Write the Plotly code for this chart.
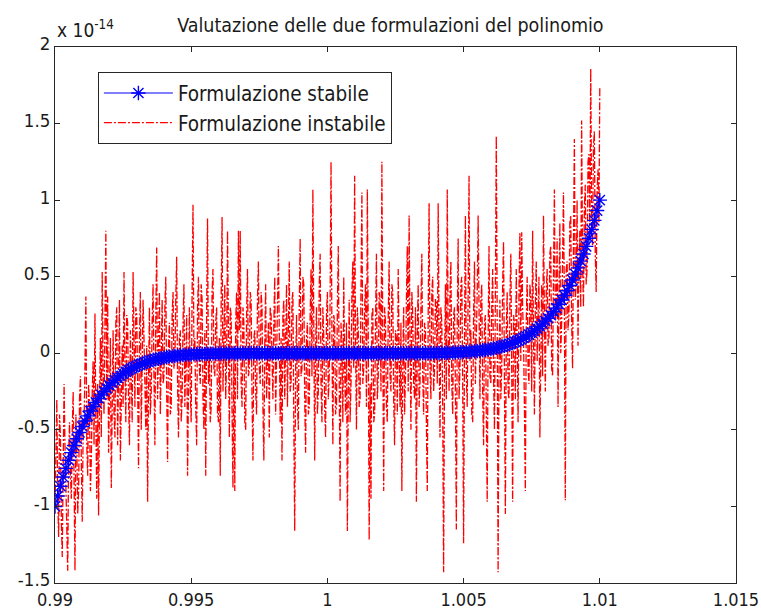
import plotly.graph_objects as go
import numpy as np

# ---- data (values in units of 1e-14) ----
x_range = [0.99, 1.01]

stable_pos = [  # right half of the stable curve, from the centre (x=1) to x=1.01
    0.0, 0.0, 0.0, 0.0, 0.0, 0.0, 0.0, 0.0, 0.0, 0.0,
    0.0, 0.0, 0.0, 0.0, 0.0, 0.0, 0.0, 0.0, 0.0, 0.0,
    0.00001, 0.00002, 0.00002, 0.00003, 0.00005, 0.00006, 0.00008, 0.0001, 0.00013, 0.00017,
    0.00022, 0.00027, 0.00034, 0.00043, 0.00052, 0.00064, 0.0008, 0.00095, 0.0011, 0.0014,
    0.0016, 0.0019, 0.0023, 0.0027, 0.0032, 0.0037, 0.0044, 0.0051, 0.0059, 0.0068,
    0.0078, 0.0090, 0.0103, 0.0117, 0.0134, 0.0152, 0.0173, 0.0196, 0.0221, 0.0249,
    0.0280, 0.0314, 0.0352, 0.0394, 0.0440, 0.0490, 0.0546, 0.0606, 0.0672, 0.0745,
    0.0824, 0.0909, 0.1003, 0.1105, 0.1215, 0.1335, 0.1465, 0.1605, 0.1757, 0.1920,
    0.2097, 0.2288, 0.2493, 0.2714, 0.2951, 0.3206, 0.3479, 0.3773, 0.4087, 0.4423,
    0.4783, 0.5168, 0.5578, 0.6017, 0.6485, 0.6983, 0.7514, 0.8080, 0.8681, 0.9321,
    1.0,
]
stable_neg = [-v for v in stable_pos[:0:-1]]  # left half (odd symmetry about x=1)
stable_y = stable_neg + stable_pos

unstable_y = [
    -1.00, -0.70, -0.30, -0.95, -1.20, -0.40, -0.55, -1.10, -1.33, -0.75, -0.20, -0.60, -0.85, -1.25, -1.42, -0.65, -0.45, -0.80, -0.95, -0.50,
    -0.25, -0.85, -1.42, -0.40, -0.60, -1.05, -0.90, -0.30, -0.15, -0.70, -1.10, -0.50, -0.45, -0.10, 0.37, -0.60, -0.80, -0.20, -0.35, -0.90,
    -0.70, -0.25, -0.05, -0.60, 0.26, -0.45, -0.95, -0.20, -1.06, -0.35, 0.10, -0.55, 0.53, -0.15, -0.40, 0.20, 0.80, -0.30, 0.37, -0.65,
    -0.30, 0.10, -0.88, -0.15, 0.15, -0.40, -0.55, 0.20, 0.30, -0.60, -0.20, 0.35, -0.70, -0.10, 0.05, -0.35, 0.53, -0.05, -0.45, 0.25,
    0.20, -0.30, -0.60, 0.15, -0.10, -0.45, 0.53, 0.00, -0.35, 0.30, 0.25, -0.20, -0.75, 0.10, 0.40, -0.50, -0.15, 0.35, 0.10, -0.25,
    -0.50, 0.05, -0.97, -0.20, 0.30, -0.40, -0.25, 0.20, 0.45, -0.15, -0.60, 0.25, 0.69, -0.30, 0.05, 0.40, -0.40, 0.15, 0.35, -0.20,
    -0.15, 0.30, 0.50, -0.25, -0.71, 0.05, 0.20, -0.40, -0.35, 0.25, 0.40, -0.10, -0.05, 0.35, 0.63, -0.20, -0.55, 0.10, 0.15, -0.45,
    -0.30, 0.20, 0.45, -0.35, -0.10, 0.25, -0.80, -0.15, 0.30, -0.25, -0.45, 0.40, 0.97, 0.00, 0.10, -0.35, -0.60, 0.30, 0.50, -0.10,
    -0.20, 0.45, 0.35, -0.30, -0.50, 0.15, -0.80, 0.25, 0.88, -0.20, 0.00, -0.45, -0.35, 0.40, 0.55, -0.10, -0.15, 0.20, 0.30, -0.40,
    -0.45, 0.10, -0.80, 0.35, 0.89, -0.25, 0.15, 0.45, -0.30, -0.05, 0.80, -0.20, -0.55, 0.30, 0.25, -0.40, -0.88, 0.05, -0.90, 0.20,
    0.40, -0.30, 0.80, 0.15, 0.80, -0.20, -0.35, 0.30, 0.20, -0.45, -0.50, 0.25, 0.55, -0.15, -0.10, 0.40, 0.35, -0.30, -0.70, 0.10,
    0.15, -0.25, -0.40, 0.35, 0.60, -0.10, -0.20, 0.40, 0.30, -0.35, -0.70, 0.05, 0.45, -0.30, -0.05, 0.20, -0.55, 0.30, 0.25, -0.15,
    -0.30, 0.20, 0.50, -0.40, -0.15, 0.30, 0.70, -0.20, -0.45, 0.10, -0.70, 0.25, 0.35, -0.30, 0.05, 0.45, -0.35, 0.15, 0.60, -0.25,
    -0.20, 0.35, 0.40, -0.45, -1.16, -0.10, 0.25, -0.35, -0.50, 0.30, 0.75, -0.15, -0.10, 0.50, 0.45, -0.30, -0.65, 0.10, 0.20, -0.40,
    -0.35, 0.25, 0.55, -0.15, 1.07, 0.20, -0.70, 0.05, 0.30, -0.40, -0.25, 0.45, 0.65, -0.20, -0.45, 0.30, 0.10, -0.35, -0.55, 0.25,
    0.40, -0.30, -0.15, 0.35, 1.25, 0.10, -0.60, 0.25, 0.20, -0.40, -0.35, 0.30, 0.70, -0.15, -0.97, 0.20, 0.05, -0.45, 0.50, -0.10,
    -0.40, 0.20, -1.16, -0.25, 0.35, -0.45, -0.20, 0.40, 0.60, -0.10, 1.16, 0.05, -0.50, 0.30, 0.15, -0.35, -0.30, 0.45, 1.05, -0.20,
    -0.10, 0.30, 0.45, -0.35, 1.07, 0.10, -1.22, -0.20, -0.95, 0.25, 0.30, -0.45, -0.40, 0.20, 0.65, -0.30, -0.15, 0.40, 0.35, -0.25,
    1.25, 0.05, -0.90, 0.30, 0.20, -0.35, -0.45, 0.25, 0.60, -0.15, -0.25, 0.45, 0.40, -0.30, -0.60, 0.15, 0.10, -0.40, 0.55, 0.00,
    -0.35, 0.20, -0.90, -0.10, 0.30, -0.40, -0.15, 0.35, 0.70, -0.25, 0.90, 0.10, -0.50, 0.40, 0.25, -0.20, -0.30, 0.30, -0.97, 0.15,
    0.45, -0.35, -0.20, 0.30, 0.65, -0.15, -0.40, 0.20, 0.15, -0.45, -0.90, 0.25, 0.98, -0.10, -0.30, 0.40, 0.50, -0.25, -0.10, 0.35,
    0.35, -0.20, 0.98, 0.10, -0.55, 0.30, 0.20, -0.35, -1.43, -0.10, 0.45, -0.30, 1.07, 0.15, -0.25, 0.40, 0.60, -0.20, -0.40, 0.25,
    0.30, -0.25, -1.15, 0.20, 0.75, -0.30, -0.10, 0.45, 0.50, -0.20, -1.24, 0.10, 0.90, -0.15, -0.35, 0.40, 1.16, -0.05, 0.15, -0.40,
    -0.45, 0.25, 0.60, -0.20, 0.05, 0.40, 0.90, -0.10, -0.30, 0.35, 0.45, -0.25, -0.60, 0.20, 0.25, -0.40, -0.97, 0.10, 0.70, -0.15,
    -0.20, 0.30, 0.55, -0.15, -0.50, 0.40, 1.42, 0.20, -1.43, -0.05, 0.35, -0.30, -0.10, 0.45, 0.73, -0.20, -1.05, 0.15, 0.40, -0.25,
    -0.30, 0.35, 0.65, -0.10, -0.97, 0.25, 0.20, -0.30, 0.55, 0.10, -0.45, 0.40, 0.79, -0.05, 0.79, 0.30, 0.10, -0.35, -0.90, 0.20,
    0.50, -0.10, -0.20, 0.45, 0.35, -0.25, 0.80, 0.10, -0.40, 0.30, 0.60, -0.05, 0.15, 0.50, -0.55, 0.20, 0.45, -0.15, 0.90, 0.25,
    -0.25, 0.40, 0.55, 0.05, 0.10, 0.65, 0.70, -0.10, -0.15, 0.50, 1.07, 0.20, 0.30, 0.75, -0.35, 0.35, 0.85, 0.00, 0.20, 0.60,
    1.05, 0.30, -0.96, 0.55, 0.60, 0.15, 0.25, 0.85, 0.90, 0.20, -0.10, 0.70, 1.40, 0.35, 0.45, 1.00, 0.05, 0.60, 0.80, 0.30,
    1.52, 0.60, 0.30, 0.95, 1.10, 0.45, 0.55, 1.25, 1.30, 0.75, 1.86, 0.90, 0.70, 1.35, 1.45, 0.65, 0.40, 1.05, 1.20, 0.85, 1.74,
]

x_tickvals = [0.99, 0.995, 1.0, 1.005, 1.01, 1.015]
x_ticktext = ["0.99", "0.995", "1", "1.005", "1.01", "1.015"]
y_tickvals = [-1.5, -1, -0.5, 0, 0.5, 1, 1.5, 2]
y_ticktext = ["-1.5", "-1", "-0.5", "0", "0.5", "1", "1.5", "2"]

title_text = "Valutazione delle due formulazioni del polinomio"
name_stable = "Formulazione stabile"
name_unstable = "Formulazione instabile"

x_stable = np.linspace(x_range[0], x_range[1], len(stable_y))
x_unstable = np.linspace(x_range[0], x_range[1], len(unstable_y))

FONT = "Liberation Sans Narrow, DejaVu Sans Condensed, Arial, Liberation Sans, sans-serif"

fig = go.Figure()
fig.add_trace(go.Scatter(
    x=x_unstable, y=unstable_y, mode="lines", name=name_unstable,
    line=dict(color="#ff0000", width=1.3, dash="8px,2px,2px,2px"),
    legendrank=2,
))
fig.add_trace(go.Scatter(
    x=x_stable, y=stable_y, mode="lines+markers", name=name_stable,
    line=dict(color="#0000ff", width=1.2),
    marker=dict(symbol="asterisk-open", size=12, color="#0000ff",
                line=dict(color="#0000ff", width=1.4)),
    legendrank=1,
))

axis_common = dict(
    showline=True, linecolor="#262626", linewidth=1, mirror="ticks",
    ticks="inside", ticklen=5, tickcolor="#262626", tickwidth=1,
    showgrid=False, zeroline=False, automargin=False,
)

fig.update_layout(
    width=761, height=609,
    margin=dict(l=55, r=25, t=47, b=26),
    paper_bgcolor="white", plot_bgcolor="white",
    title=dict(text=title_text, x=0.513, xanchor="center", y=0.958, yanchor="middle",
               font=dict(family=FONT, size=19.5, color="#1a1a1a")),
    xaxis=dict(range=[0.99, 1.015], tickvals=x_tickvals, ticktext=x_ticktext,
               ticklabelstandoff=0,
               tickfont=dict(family=FONT, size=18, color="#1a1a1a"), **axis_common),
    yaxis=dict(range=[-1.5, 2], tickvals=y_tickvals, ticktext=y_ticktext,
               ticklabelshift=-3,
               tickfont=dict(family=FONT, size=18.5, color="#1a1a1a"), **axis_common),
    legend=dict(x=0.063, y=0.953, xanchor="left", yanchor="top",
                bgcolor="white", bordercolor="#262626", borderwidth=1,
                font=dict(family=FONT, size=20.5, color="#1a1a1a"),
                itemwidth=69, tracegroupgap=0),
    showlegend=True,
    annotations=[dict(text="x 10<sup>-14</sup>", xref="paper", yref="paper",
                      x=0, y=1, xanchor="left", yanchor="bottom", yshift=4,
                      showarrow=False,
                      font=dict(family=FONT, size=19, color="#1a1a1a"))],
)

fig.write_html("out.html")
